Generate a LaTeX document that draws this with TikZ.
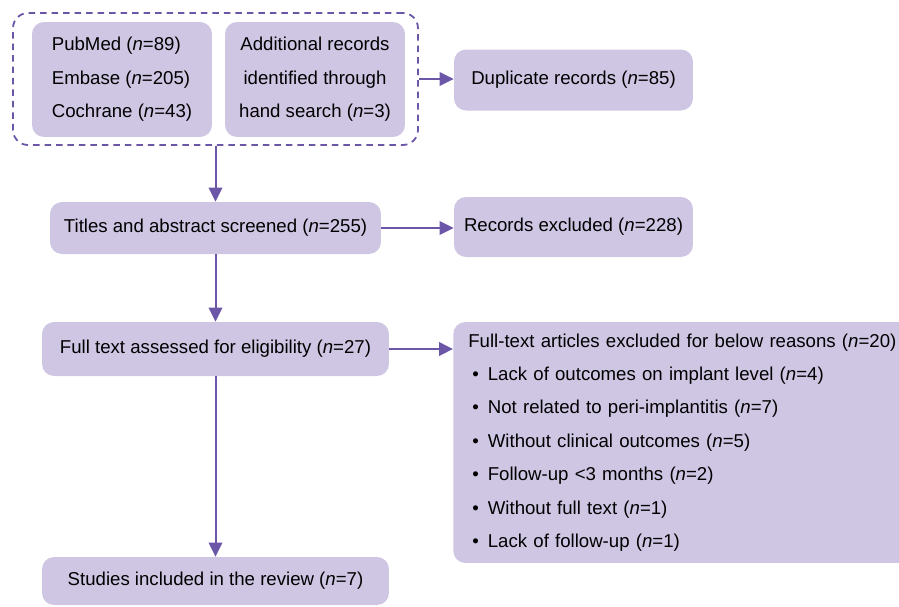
\documentclass[tikz,border=0pt]{standalone}
\usepackage{fontspec}
\setmainfont{Liberation Sans}
\usepackage{xcolor}
\usetikzlibrary{arrows.meta,positioning}

\definecolor{boxfill}{RGB}{207,198,228}
\definecolor{flowline}{RGB}{107,86,168}
\newcommand{\nn}[1]{(\textit{n}=#1)}
\newcommand{\reason}[1]{\hspace*{0.08cm}\textbullet\hspace{0.18cm}#1}

\begin{document}
\begin{tikzpicture}[x=0.02cm,y=-0.02cm,
		box/.style={fill=boxfill,rounded corners=0.24cm,inner sep=0pt,font=\fontsize{10.6}{19}\selectfont},
		flow/.style={draw=flowline,line width=0.04cm,-{Triangle[length=0.28cm,width=0.27cm]}}]
	\useasboundingbox (0,0) rectangle (899,606);
	\clip (0,0) rectangle (899,606);
	% identification
	\node[draw=flowline,line width=0.036cm,dash pattern=on 0.13cm off 0.1cm,rounded corners=0.3cm,minimum width=8.1cm,minimum height=2.64cm] (search) at (215.5,79) {};
	\node[box,minimum width=3.6cm,minimum height=2.3cm,align=left] (db) at (122,79.5) {PubMed \nn{89}\\Embase \nn{205}\\Cochrane \nn{43}};
	\node[box,minimum width=3.6cm,minimum height=2.3cm,align=center] (hand) at (315,79.5) {Additional records\\identified through\\hand search \nn{3}};
	\node[box,minimum width=4.78cm,minimum height=1.22cm] (dup) at (573.5,80) {Duplicate records \nn{85}};
	% screening
	\node[box,minimum width=6.62cm,minimum height=1.04cm] (titles) at (215.5,228) {Titles and abstract screened \nn{255}};
	\node[box,minimum width=4.78cm,minimum height=1.2cm] (excl) at (573.5,227) {Records excluded \nn{228}};
	% eligibility
	\node[box,minimum width=6.94cm,minimum height=1.08cm] (full) at (215.5,349) {Full text assessed for eligibility \nn{27}};
	\node[box,anchor=west,inner xsep=0.3cm,text width=8.6cm,minimum height=4.82cm,align=left] (reasons) at (453,442.5) {Full-text articles excluded for below reasons \nn{20}\\
		\reason{Lack of outcomes on implant level \nn{4}}\\
		\reason{Not related to peri-implantitis \nn{7}}\\
		\reason{Without clinical outcomes \nn{5}}\\
		\reason{Follow-up <3 months \nn{2}}\\
		\reason{Without full text \nn{1}}\\
		\reason{Lack of follow-up \nn{1}}};
	% included
	\node[box,minimum width=6.94cm,minimum height=0.96cm] (studies) at (215.5,581) {Studies included in the review \nn{7}};
	% connectors
	\draw[flow] (search.east) -- (search.east -| dup.west);
	\draw[flow] (search.south) -- (titles.north);
	\draw[flow] (titles.east) -- (titles.east -| excl.west);
	\draw[flow] (titles.south) -- (full.north);
	\draw[flow] (full.east) -- (full.east -| reasons.west);
	\draw[flow] (full.south) -- (studies.north);
\end{tikzpicture}
\end{document}
